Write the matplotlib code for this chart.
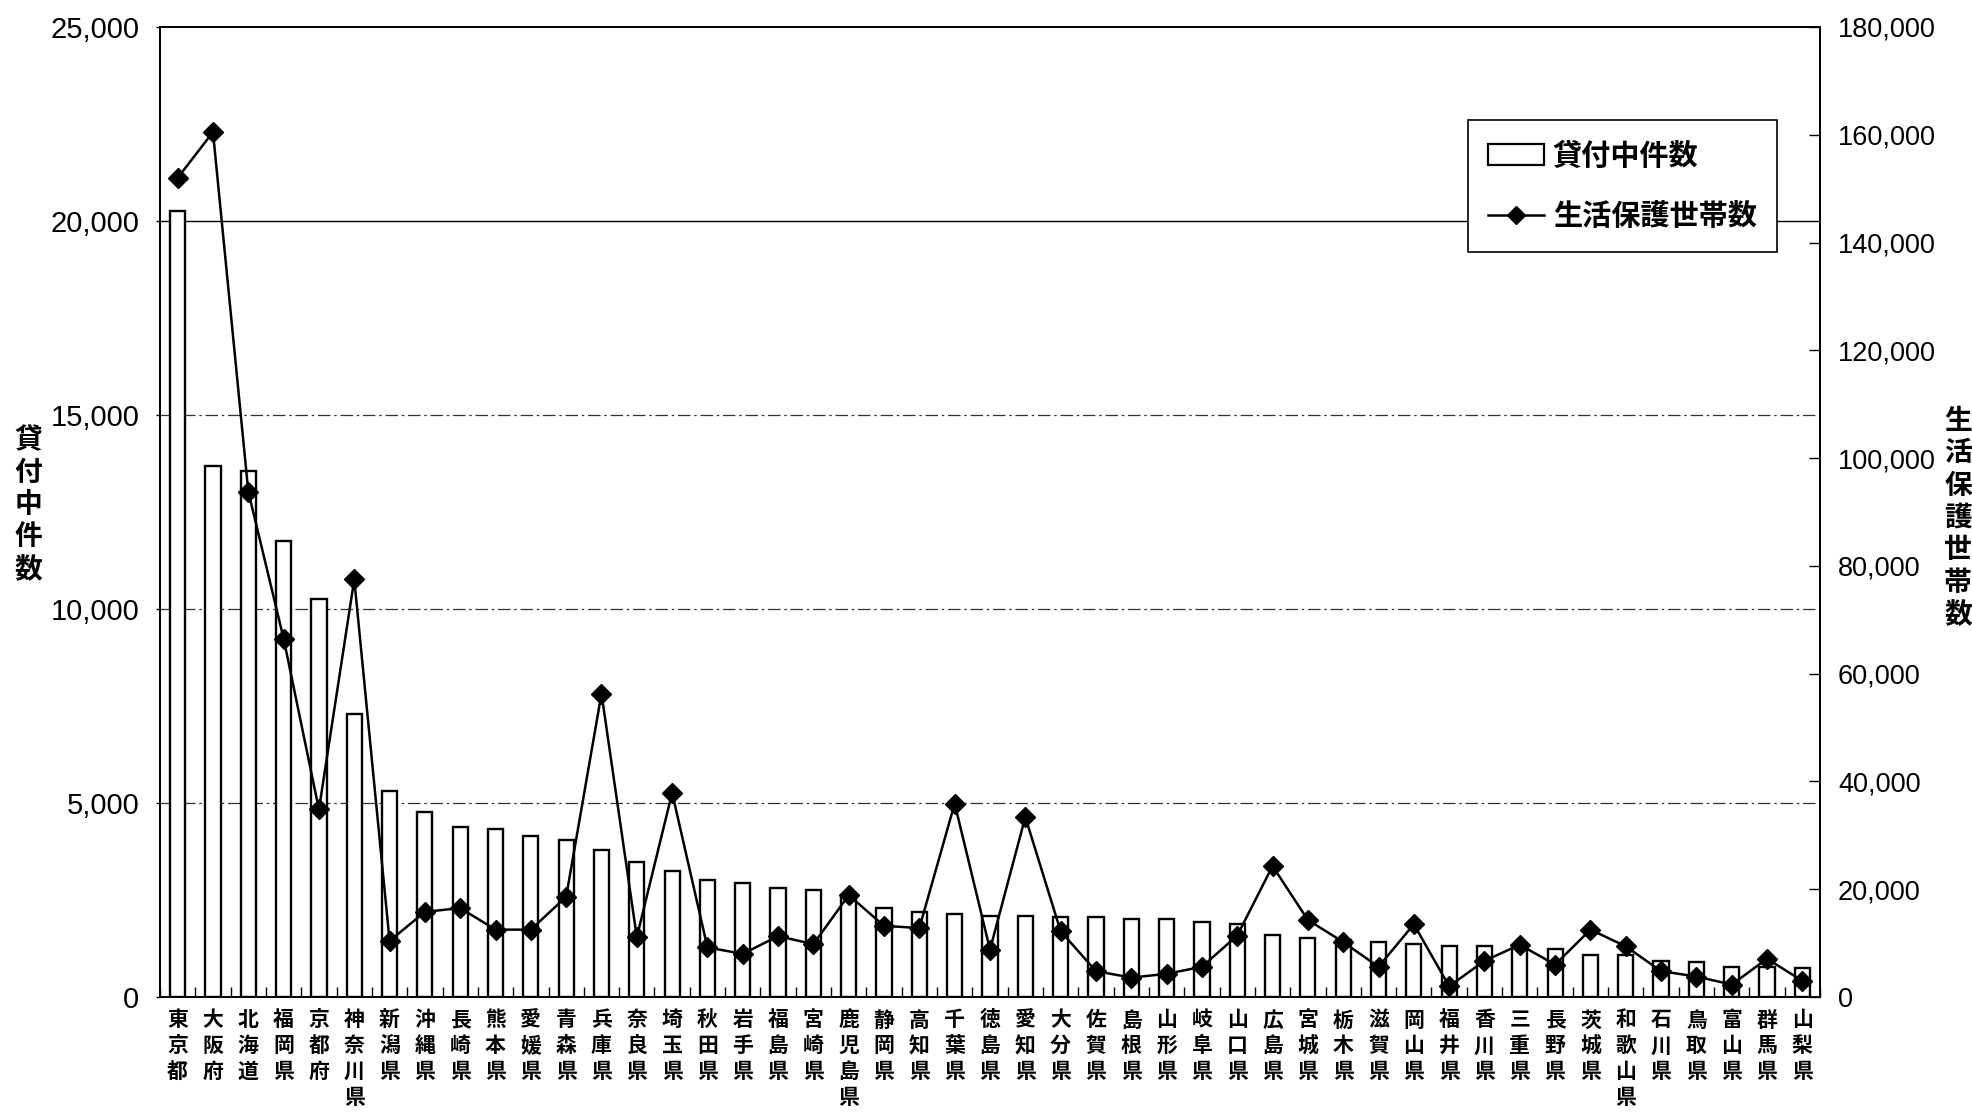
import matplotlib
matplotlib.use("Agg")
import matplotlib.pyplot as plt
from matplotlib.lines import Line2D
from matplotlib.patches import Patch
from matplotlib.ticker import FuncFormatter, MultipleLocator, FixedLocator

plt.rcParams['font.family'] = ['Noto Sans CJK JP', 'DejaVu Sans']

prefectures = ["東京都", "大阪府", "北海道", "福岡県", "京都府", "神奈川県", "新潟県", "沖縄県",
               "長崎県", "熊本県", "愛媛県", "青森県", "兵庫県", "奈良県", "埼玉県", "秋田県",
               "岩手県", "福島県", "宮崎県", "鹿児島県", "静岡県", "高知県", "千葉県", "徳島県",
               "愛知県", "大分県", "佐賀県", "島根県", "山形県", "岐阜県", "山口県", "広島県",
               "宮城県", "栃木県", "滋賀県", "岡山県", "福井県", "香川県", "三重県", "長野県",
               "茨城県", "和歌山県", "石川県", "鳥取県", "富山県", "群馬県", "山梨県"]

loans = [20250, 13680, 13550, 11750, 10250, 7300, 5300, 4780,
         4380, 4330, 4150, 4040, 3790, 3490, 3250, 3020,
         2930, 2800, 2770, 2600, 2290, 2200, 2150, 2100,
         2100, 2060, 2050, 2020, 2000, 1930, 1890, 1600,
         1520, 1470, 1420, 1370, 1310, 1310, 1280, 1230,
         1070, 1080, 940, 890, 780, 780, 750]

welfare = [152000, 160500, 93800, 66500, 34800, 77500, 10400, 15800,
           16500, 12500, 12500, 18600, 56300, 11100, 37900, 9200,
           8000, 11300, 9800, 18900, 13200, 12800, 35900, 8800,
           33400, 12200, 4800, 3600, 4300, 5600, 11400, 24300,
           14300, 10200, 5600, 13500, 2000, 6700, 9700, 6000,
           12500, 9400, 4800, 3800, 2300, 7100, 3000]

label_left = "貸付中件数"
label_right = "生活保護世帯数"

W, H = 1972, 1114
fig = plt.figure(figsize=(W / 100, H / 100), dpi=100)
ax = fig.add_axes([160 / W, 1 - 997 / H, (1820 - 160) / W, (997 - 27) / H])
ax2 = ax.twinx()

x = list(range(len(prefectures)))

# gridlines
for v in (5000, 10000, 15000):
    ax.axhline(v, color='#333333', lw=0.9, ls=(0, (10, 3, 2, 3)), zorder=0)
ax.axhline(20000, color='black', lw=1.0, zorder=0)

ax.bar(x, loans, width=0.43, color='white', edgecolor='black', linewidth=1.7, zorder=2)
ax2.plot(x, welfare, color='black', lw=1.8, marker='D', markersize=10.5,
         markerfacecolor='black', markeredgecolor='black', zorder=3)

ax.set_xlim(-0.5, len(prefectures) - 0.5)
ax.set_ylim(0, 25000)
ax2.set_ylim(0, 180000)
ax.yaxis.set_major_locator(MultipleLocator(5000))
ax2.yaxis.set_major_locator(MultipleLocator(20000))
fmt = FuncFormatter(lambda v, p: f"{int(v):,}")
ax.yaxis.set_major_formatter(fmt)
ax2.yaxis.set_major_formatter(fmt)

ax.set_xticks(x)
ax.set_xticklabels(["\n".join(p) for p in prefectures], fontsize=15,
                   linespacing=1.28, va='top', fontweight='bold')
ax.tick_params(axis='x', which='major', length=0, pad=9)
ax.xaxis.set_minor_locator(FixedLocator([i + 0.5 for i in range(-1, len(prefectures))]))
ax.tick_params(axis='x', which='minor', direction='in', length=7, width=1.0)

ax.tick_params(axis='y', which='major', direction='out', length=3, width=1.0,
               labelsize=21, pad=12)
ax2.tick_params(axis='y', which='major', direction='in', length=8, width=1.0,
                labelsize=19.5, pad=13)
for t in ax.get_yticklabels() + ax2.get_yticklabels():
    t.set_family(['Liberation Sans', 'DejaVu Sans'])

for a in (ax, ax2):
    for s in a.spines.values():
        s.set_linewidth(1.3)
        s.set_color('black')

fig.text(28 / W, 1 - 505 / H, "\n".join(label_left), ha='center', va='center',
         fontsize=20, linespacing=1.2, fontweight='bold')
fig.text(1958 / W, 1 - 518 / H, "\n".join(label_right), ha='center', va='center',
         fontsize=20, linespacing=1.2, fontweight='bold')

handles = [Patch(facecolor='white', edgecolor='black', linewidth=1.6),
           Line2D([], [], color='black', lw=1.8, marker='D', markersize=9)]
leg = ax2.legend(handles, [label_left, label_right], loc='upper left',
                 bbox_to_anchor=(0.788, 0.904), frameon=True,
                 prop={'size': 21, 'weight': 'bold'},
                 fancybox=False, edgecolor='black', framealpha=1,
                 handlelength=1.9, handleheight=0.75, labelspacing=1.05,
                 borderpad=0.7, handletextpad=0.3, borderaxespad=0)
leg.get_frame().set_linewidth(1.2)

fig.savefig("out.png", dpi=100, facecolor='white')
